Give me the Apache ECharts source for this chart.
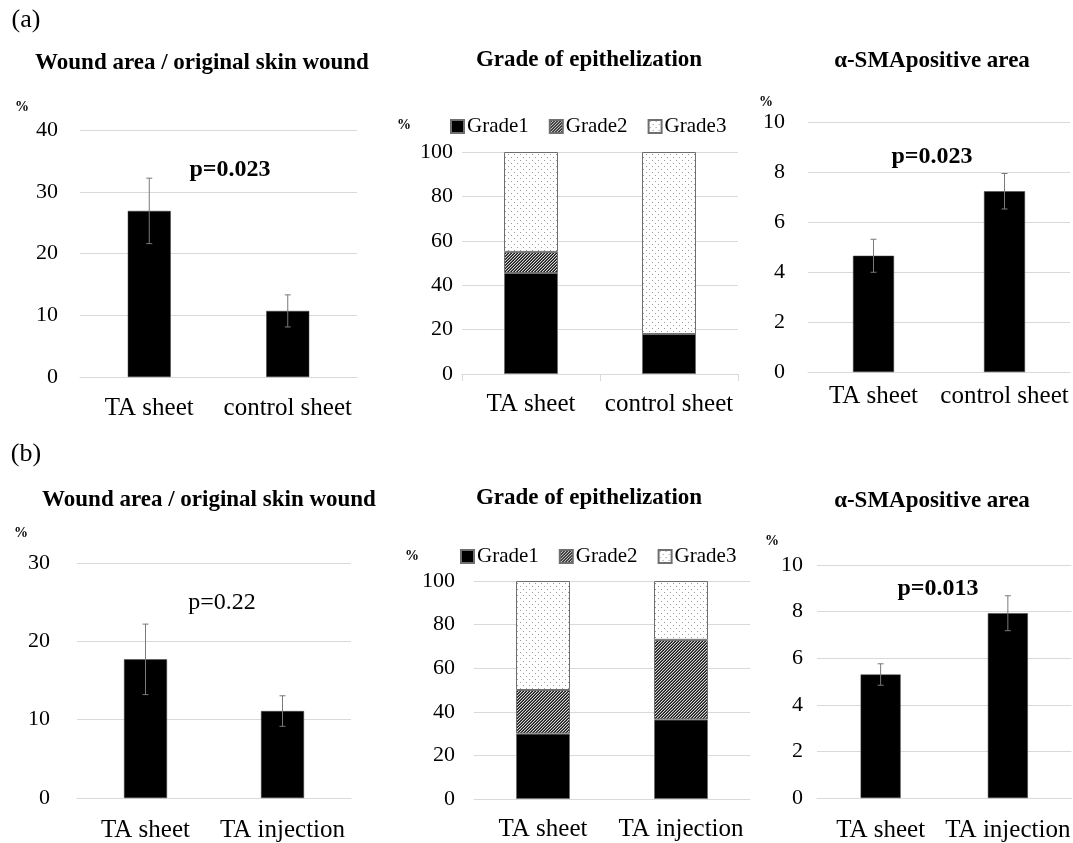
<!DOCTYPE html>
<html>
<head>
<meta charset="utf-8">
<script src="https://cdn.jsdelivr.net/npm/echarts@6/dist/echarts.min.js"></script>
<style>
  html, body { margin: 0; padding: 0; background: #fff; }
  #main { width: 1073px; height: 843px; }
</style>
</head>
<body>
<div id="main"></div>
<script>
// (a) TA sheet vs control sheet
var catsA = ['TA sheet', 'control sheet'];
var woundA = [26.9, 10.7];
var woundErrA = [5.3, 2.6];
var grade1A = [45.5, 18];
var grade2A = [9.5, 0];
var grade3A = [45, 82];
var smaA = [4.65, 7.23];
var smaErrA = [0.66, 0.71];

// (b) TA sheet vs TA injection
var catsB = ['TA sheet', 'TA injection'];
var woundB = [17.7, 11.1];
var woundErrB = [4.5, 1.95];
var grade1B = [30, 36.5];
var grade2B = [20, 36.5];
var grade3B = [50, 27];
var smaB = [5.3, 7.93];
var smaErrB = [0.46, 0.75];

var gradeNames = ['Grade1', 'Grade2', 'Grade3'];

var FONT = "'Liberation Serif', serif";
var GRID_COLOR = '#d9d9d9';

// fill patterns for the stacked bars
function hatchCanvas() {
  var c = document.createElement('canvas');
  c.width = 3; c.height = 3;
  var g = c.getContext('2d');
  g.fillStyle = '#d8d8d8';
  g.fillRect(0, 0, 3, 3);
  g.fillStyle = '#1a1a1a';
  // diagonal run of pixels, repeats every 3px
  g.fillRect(0, 2, 1, 1);
  g.fillRect(1, 1, 1, 1);
  g.fillRect(2, 0, 1, 1);
  g.fillStyle = '#555';
  g.fillRect(0, 1, 1, 1);
  g.fillRect(1, 0, 1, 1);
  g.fillRect(2, 2, 1, 1);
  return c;
}
function dotCanvas() {
  var c = document.createElement('canvas');
  c.width = 6; c.height = 6;
  var g = c.getContext('2d');
  g.fillStyle = '#fff';
  g.fillRect(0, 0, 6, 6);
  g.fillStyle = '#999';
  g.fillRect(1, 1, 1, 1);
  g.fillRect(4, 4, 1, 1);
  return c;
}
var hatchFill = { image: hatchCanvas(), repeat: 'repeat' };
var dotFill = { image: dotCanvas(), repeat: 'repeat' };

var grids = [
  { left: 80, top: 130, width: 277, height: 247 },
  { left: 462, top: 152, width: 276, height: 222 },
  { left: 808, top: 122, width: 262, height: 250 },
  { left: 77, top: 563, width: 274, height: 238 },
  { left: 474, top: 581, width: 276, height: 218 },
  { left: 817, top: 565, width: 256, height: 234 }
];

function xAxis(idx, cats, margin, ticks) {
  return {
    type: 'category', gridIndex: idx, data: cats,
    axisLine: { show: true, lineStyle: { color: GRID_COLOR } },
    axisTick: { show: ticks, length: 7, lineStyle: { color: GRID_COLOR } },
    axisLabel: { interval: 0, margin: margin, color: '#000', fontFamily: FONT, fontSize: 25 }
  };
}
function yAxis(idx, max, interval, margin) {
  return {
    type: 'value', gridIndex: idx, min: 0, max: max, interval: interval,
    axisLine: { show: false }, axisTick: { show: false },
    splitLine: { lineStyle: { color: GRID_COLOR, width: 1 } },
    axisLabel: { margin: margin, color: '#000', fontFamily: FONT, fontSize: 22 }
  };
}

function blackBar(idx, vals, width) {
  return {
    type: 'bar', xAxisIndex: idx, yAxisIndex: idx, data: vals, barWidth: width,
    itemStyle: { color: '#000', borderColor: '#444', borderWidth: 0.5 },
    silent: true
  };
}

function errBars(idx, vals, errs) {
  return {
    type: 'custom', xAxisIndex: idx, yAxisIndex: idx, z: 10, silent: true,
    data: vals.map(function (v, i) { return [i, v - errs[i], v + errs[i]]; }),
    encode: { x: 0, y: [1, 2] },
    renderItem: function (params, api) {
      var lo = api.coord([api.value(0), api.value(1)]);
      var hi = api.coord([api.value(0), api.value(2)]);
      var st = { stroke: '#7a7a7a', lineWidth: 1 };
      return {
        type: 'group',
        children: [
          { type: 'line', shape: { x1: lo[0], y1: lo[1], x2: hi[0], y2: hi[1] }, style: st },
          { type: 'line', shape: { x1: lo[0] - 3, y1: lo[1], x2: lo[0] + 3, y2: lo[1] }, style: st },
          { type: 'line', shape: { x1: hi[0] - 3, y1: hi[1], x2: hi[0] + 3, y2: hi[1] }, style: st }
        ]
      };
    }
  };
}

function gradeBars(idx, g1, g2, g3, width) {
  var fills = ['#000', hatchFill, dotFill];
  var vals = [g1, g2, g3];
  return gradeNames.map(function (name, k) {
    return {
      name: name, type: 'bar', stack: 'grade' + idx,
      xAxisIndex: idx, yAxisIndex: idx, data: vals[k], barWidth: width,
      itemStyle: { color: fills[k], borderColor: '#6f6f6f', borderWidth: 1 },
      silent: true
    };
  });
}

function legend(left, top) {
  return {
    data: gradeNames, left: left, top: top, icon: 'rect',
    itemWidth: 13, itemHeight: 13, itemGap: 20, selectedMode: false,
    textStyle: { fontFamily: FONT, fontSize: 21, color: '#000', padding: [0, 0, 0, -2] }
  };
}

function txt(s, x, y, size, weight) {
  return {
    type: 'text', x: x, y: y, silent: true,
    style: {
      text: s, fontFamily: FONT, fontSize: size, fontWeight: weight || 'normal',
      fill: '#000', align: 'center', verticalAlign: 'middle'
    }
  };
}

var chart = echarts.init(document.getElementById('main'));
chart.setOption({
  backgroundColor: '#fff',
  animation: false,
  grid: grids,
  xAxis: [
    xAxis(0, catsA, 19, false), xAxis(1, catsA, 18, true), xAxis(2, catsA, 12, false),
    xAxis(3, catsB, 20, false), xAxis(4, catsB, 18, false), xAxis(5, catsB, 20, false)
  ],
  yAxis: [
    yAxis(0, 40, 10, 22), yAxis(1, 100, 20, 9), yAxis(2, 10, 2, 23),
    yAxis(3, 30, 10, 27), yAxis(4, 100, 20, 19), yAxis(5, 10, 2, 14)
  ],
  legend: [legend(445, 111), legend(455, 541)],
  series: [].concat(
    blackBar(0, woundA, 43), errBars(0, woundA, woundErrA),
    gradeBars(1, grade1A, grade2A, grade3A, 54),
    blackBar(2, smaA, 41), errBars(2, smaA, smaErrA),
    blackBar(3, woundB, 43), errBars(3, woundB, woundErrB),
    gradeBars(4, grade1B, grade2B, grade3B, 54),
    blackBar(5, smaB, 40), errBars(5, smaB, smaErrB)
  ),
  graphic: [
    txt('(a)', 26, 20, 26),
    txt('(b)', 26, 454, 26),
    txt('Wound area / original skin wound', 202, 63, 23, 'bold'),
    txt('Grade of epithelization', 589, 60, 23, 'bold'),
    txt('\u03b1-SMApositive area', 932, 61, 23, 'bold'),
    txt('Wound area / original skin wound', 209, 500, 23, 'bold'),
    txt('Grade of epithelization', 589, 498, 23, 'bold'),
    txt('\u03b1-SMApositive area', 932, 501, 23, 'bold'),
    txt('%', 22, 107, 14, 'bold'),
    txt('%', 404, 125, 14, 'bold'),
    txt('%', 766, 102, 14, 'bold'),
    txt('%', 21, 533, 14, 'bold'),
    txt('%', 412, 556, 14, 'bold'),
    txt('%', 772, 541, 14, 'bold'),
    txt('p=0.023', 230, 170, 24, 'bold'),
    txt('p=0.023', 932, 157, 24, 'bold'),
    txt('p=0.22', 222, 603, 24),
    txt('p=0.013', 938, 589, 24, 'bold')
  ]
});
</script>
</body>
</html>
